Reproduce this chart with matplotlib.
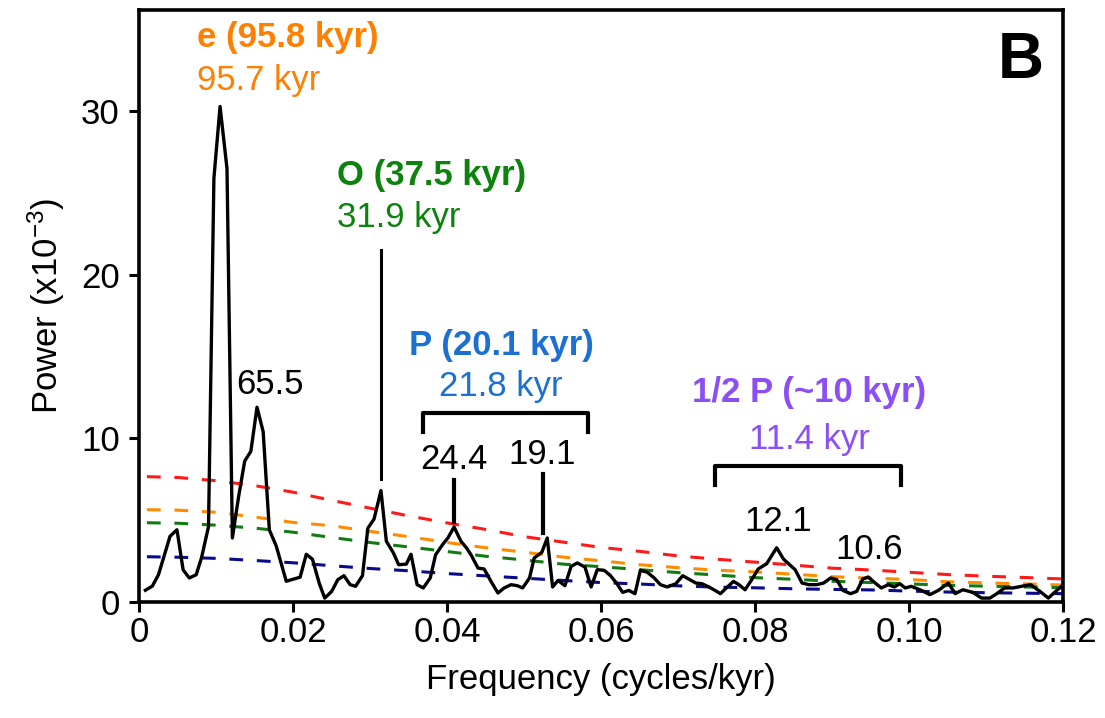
import matplotlib.pyplot as plt

plt.rcParams['font.family'] = ['Liberation Sans', 'DejaVu Sans']
plt.rcParams['mathtext.default'] = 'regular'

# spectrum (frequency in cycles/kyr, power x10^-3)
freq = [0.0008, 0.0017, 0.0025, 0.0040, 0.0049, 0.0057, 0.0065, 0.0074, 0.0081, 0.0090,
        0.0097, 0.0105, 0.0114, 0.0121, 0.0129, 0.0137, 0.0145, 0.0153, 0.0161, 0.0169,
        0.0178, 0.0191, 0.0209, 0.0217, 0.0225, 0.0234, 0.0241, 0.0250, 0.0258, 0.0266,
        0.0274, 0.0281, 0.0290, 0.0297, 0.0305, 0.0314, 0.0321, 0.0330, 0.0337, 0.0347,
        0.0353, 0.0361, 0.0369, 0.0378, 0.0385, 0.0394, 0.0401, 0.0409, 0.0418, 0.0425,
        0.0431, 0.0440, 0.0448, 0.0457, 0.0466, 0.0474, 0.0483, 0.0491, 0.0498, 0.0507,
        0.0513, 0.0523, 0.0530, 0.0537, 0.0544, 0.0553, 0.0561, 0.0569, 0.0579, 0.0587,
        0.0595, 0.0604, 0.0612, 0.0620, 0.0628, 0.0636, 0.0644, 0.0651, 0.0660, 0.0669,
        0.0677, 0.0686, 0.0697, 0.0706, 0.0715, 0.0723, 0.0731, 0.0740, 0.0748, 0.0755,
        0.0764, 0.0772, 0.0779, 0.0787, 0.0795, 0.0804, 0.0815, 0.0828, 0.0837, 0.0845,
        0.0852, 0.0861, 0.0870, 0.0880, 0.0889, 0.0898, 0.0906, 0.0914, 0.0924, 0.0932,
        0.0940, 0.0947, 0.0956, 0.0964, 0.0973, 0.0981, 0.0988, 0.0995, 0.1003, 0.1016,
        0.1027, 0.1038, 0.1051, 0.1060, 0.1070, 0.1083, 0.1094, 0.1105, 0.1114, 0.1124,
        0.1135, 0.1146, 0.1158, 0.1170, 0.1181, 0.1189, 0.1198]
power = [0.7, 0.95, 1.65, 4.0, 4.4, 1.95, 1.45, 1.65, 2.7, 4.6,
         25.9, 30.3, 26.5, 3.9, 6.4, 8.6, 9.2, 11.9, 10.4, 4.4,
         3.4, 1.25, 1.5, 2.9, 2.6, 1.1, 0.22, 0.63, 1.35, 1.59,
         1.04, 0.94, 1.59, 4.5, 5.05, 6.8, 3.7, 3.0, 2.26, 2.3,
         2.9, 1.04, 0.84, 1.45, 2.87, 3.49, 3.9, 4.57, 3.69, 3.3,
         2.87, 2.06, 2.0, 1.24, 0.53, 0.84, 1.04, 0.98, 0.84, 1.45,
         2.67, 3.02, 3.9, 0.9, 1.3, 0.98, 2.16, 2.37, 2.12, 0.9,
         1.96, 1.92, 1.6, 1.14, 0.57, 0.69, 0.49, 1.92, 1.8, 1.45,
         1.04, 0.9, 1.1, 1.59, 1.35, 1.14, 1.1, 0.9, 0.69, 0.49,
         0.9, 1.24, 1.04, 0.73, 1.3, 2.0, 2.32, 3.3, 2.6, 2.26,
         1.96, 1.14, 1.04, 1.04, 1.14, 1.45, 1.35, 0.69, 0.49, 0.63,
         1.39, 1.51, 1.14, 0.84, 1.04, 0.9, 1.1, 0.84, 0.94, 0.69,
         0.43, 0.69, 1.14, 0.49, 0.73, 0.57, 0.22, 0.22, 0.49, 0.84,
         0.84, 0.94, 1.04, 0.63, 0.22, 0.57, 0.94]

# confidence / noise levels
level_freq = [0.001, 0.005, 0.01, 0.015, 0.02, 0.025, 0.03, 0.035, 0.04, 0.045, 0.05, 0.055,
              0.06, 0.065, 0.07, 0.075, 0.08, 0.085, 0.09, 0.095, 0.10, 0.105, 0.11, 0.115, 0.12]
level_red = [7.65, 7.6, 7.4, 7.1, 6.7, 6.2, 5.72, 5.25, 4.82, 4.42, 3.98, 3.65,
             3.32, 3.08, 2.8, 2.6, 2.42, 2.24, 2.05, 1.94, 1.8, 1.66, 1.56, 1.48, 1.39]
level_orange = [5.63, 5.6, 5.47, 5.18, 4.85, 4.65, 4.3, 3.98, 3.62, 3.3, 3.03, 2.73,
                2.5, 2.26, 2.08, 1.93, 1.82, 1.68, 1.53, 1.44, 1.36, 1.22, 1.15, 1.09, 1.02]
level_green = [4.83, 4.8, 4.68, 4.5, 4.25, 3.93, 3.62, 3.35, 3.07, 2.78, 2.55, 2.3,
               2.14, 1.96, 1.78, 1.63, 1.47, 1.37, 1.25, 1.17, 1.09, 1.0, 0.95, 0.9, 0.86]
level_blue = [2.75, 2.72, 2.65, 2.52, 2.38, 2.2, 2.03, 1.89, 1.72, 1.58, 1.44, 1.3,
              1.17, 1.08, 0.97, 0.89, 0.85, 0.79, 0.75, 0.72, 0.65, 0.59, 0.55, 0.52, 0.49]

xticks = [0, 0.02, 0.04, 0.06, 0.08, 0.10, 0.12]
xtick_labels = ['0', '0.02', '0.04', '0.06', '0.08', '0.10', '0.12']
yticks = [0, 10, 20, 30]

fs = 25

fig = plt.figure(figsize=(11.05, 7.18), dpi=100)
ax = fig.add_axes([0.126, 0.162, 0.836, 0.824])

dash_kw = dict(linestyle=(0, (4.5, 4.5)), linewidth=2.2)
ax.plot(level_freq, level_red, color='#ff1a1a', **dash_kw)
ax.plot(level_freq, level_orange, color='#ff8c00', **dash_kw)
ax.plot(level_freq, level_green, color='#137a13', **dash_kw)
ax.plot(level_freq, level_blue, color='#0a0a8c', **dash_kw)
ax.plot(freq, power, color='black', linewidth=2.4)

ax.set_xlim(0, 0.12)
ax.set_ylim(0, 36.2)
ax.set_xticks(xticks)
ax.set_xticklabels(xtick_labels)
ax.set_yticks(yticks)
ax.tick_params(labelsize=fs, width=2.2, length=7, direction='out')
ax.tick_params(axis='y', pad=7)
for s in ax.spines.values():
    s.set_linewidth(2.6)

ax.set_xlabel('Frequency (cycles/kyr)', fontsize=fs, labelpad=10)
ax.set_ylabel('Power (x10$^{-3}$)', fontsize=fs, labelpad=10)

# peak labels
orange_txt = '#ff8000'
green_txt = '#0d820d'
blue_txt = '#1c70d2'
purple_txt = '#8c4ff5'
ax.text(0.0075, 34.5, 'e (95.8 kyr)', color=orange_txt, fontsize=fs, fontweight='bold', va='center')
ax.text(0.0075, 31.9, '95.7 kyr', color=orange_txt, fontsize=fs, va='center')
ax.text(0.0257, 26.1, 'O (37.5 kyr)', color=green_txt, fontsize=fs, fontweight='bold', va='center')
ax.text(0.0257, 23.5, '31.9 kyr', color=green_txt, fontsize=fs, va='center')
ax.text(0.0470, 15.7, 'P (20.1 kyr)', color=blue_txt, fontsize=fs, fontweight='bold', va='center', ha='center')
ax.text(0.0470, 13.15, '21.8 kyr', color=blue_txt, fontsize=fs, va='center', ha='center')
ax.text(0.0870, 12.8, '1/2 P (~10 kyr)', color=purple_txt, fontsize=fs, fontweight='bold', va='center', ha='center')
ax.text(0.0870, 9.9, '11.4 kyr', color=purple_txt, fontsize=fs, va='center', ha='center')

ax.text(0.0170, 13.3, '65.5', fontsize=fs, va='center', ha='center')
ax.text(0.0409, 8.7, '24.4', fontsize=fs, va='center', ha='center')
ax.text(0.0523, 9.0, '19.1', fontsize=fs, va='center', ha='center')
ax.text(0.0830, 4.9, '12.1', fontsize=fs, va='center', ha='center')
ax.text(0.0948, 3.2, '10.6', fontsize=fs, va='center', ha='center')

# marker lines and brackets
ax.plot([0.0314, 0.0314], [7.5, 21.5], color='black', linewidth=2.2)
ax.plot([0.0409, 0.0409], [4.9, 7.45], color='black', linewidth=3)
ax.plot([0.0524, 0.0524], [4.2, 7.8], color='black', linewidth=3)
ax.plot([0.0368, 0.0368, 0.0583, 0.0583], [10.4, 11.55, 11.55, 10.4], color='black', linewidth=3)
ax.plot([0.0748, 0.0748, 0.0990, 0.0990], [7.15, 8.3, 8.3, 7.15], color='black', linewidth=3)

ax.text(0.1145, 33.1, 'B', fontsize=46, fontweight='bold', va='center', ha='center')

plt.savefig('out.png', dpi=100)
